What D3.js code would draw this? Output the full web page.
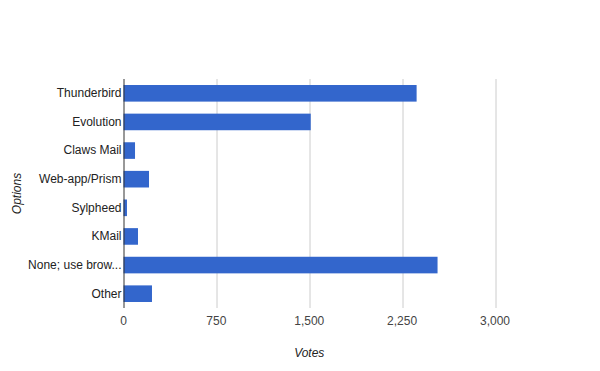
<!DOCTYPE html>
<html>
<head>
<meta charset="utf-8">
<script src="https://cdn.jsdelivr.net/npm/d3@7"></script>
<style>
  body { margin: 0; background: #fff; }
  text { font-family: "Liberation Sans", Arial, sans-serif; }
</style>
</head>
<body>
<div id="chart"></div>
<script>
// Data
const options = ["Thunderbird", "Evolution", "Claws Mail", "Web-app/Prism", "Sylpheed", "KMail", "None; use brow...", "Other"];
const votes = [2367, 1512, 93, 206, 28, 117, 2536, 230];
const ticks = [0, 750, 1500, 2250, 3000];

const margin = { top: 79, left: 123.5 },
    width = 495 - 123.5,
    height = 308 - 79;

const svg = d3.select("#chart")
  .append("svg")
    .attr("width", 600)
    .attr("height", 371);

const g = svg.append("g")
    .attr("transform", `translate(${margin.left},${margin.top})`);

const x = d3.scaleLinear().domain([0, 3000]).range([0, width]);
const y = d3.scaleBand().domain(options).range([0, height]).paddingInner(0.42).paddingOuter(0.21);

// gridlines
g.selectAll(".grid")
  .data(ticks.slice(1))
  .join("line")
    .attr("x1", d => Math.round(x(d)) + 0.5)
    .attr("x2", d => Math.round(x(d)) + 0.5)
    .attr("y1", 0)
    .attr("y2", height)
    .attr("stroke", "#ccc");

// bars
g.selectAll(".bar")
  .data(options)
  .join("rect")
    .attr("x", 0)
    .attr("y", d => y(d))
    .attr("width", (d, i) => x(votes[i]))
    .attr("height", y.bandwidth())
    .attr("fill", "#3366cc");

// x axis labels
g.selectAll(".xt")
  .data(ticks)
  .join("text")
    .attr("x", d => x(d))
    .attr("y", height + 17)
    .attr("text-anchor", "middle")
    .attr("font-size", 12)
    .attr("fill", "#444")
    .text(d => d3.format(",")(d));

// y axis
g.append("g")
  .call(d3.axisLeft(y).tickSize(0).tickPadding(2))
  .call(a => a.select(".domain").attr("stroke", "#333").attr("d", `M0.5,0V${height}`))
  .call(a => a.selectAll("text")
    .attr("font-family", "Liberation Sans, Arial, sans-serif")
    .attr("font-size", 12)
    .attr("fill", "#222"));

// titles
svg.append("text")
  .attr("x", margin.left + width / 2)
  .attr("y", 357)
  .attr("text-anchor", "middle")
  .attr("font-size", 12)
  .attr("font-style", "italic")
  .attr("fill", "#222")
  .text("Votes");

svg.append("text")
  .attr("transform", `translate(21,${margin.top + height / 2}) rotate(-90)`)
  .attr("text-anchor", "middle")
  .attr("font-size", 12)
  .attr("font-style", "italic")
  .attr("fill", "#222")
  .text("Options");
</script>
</body>
</html>
